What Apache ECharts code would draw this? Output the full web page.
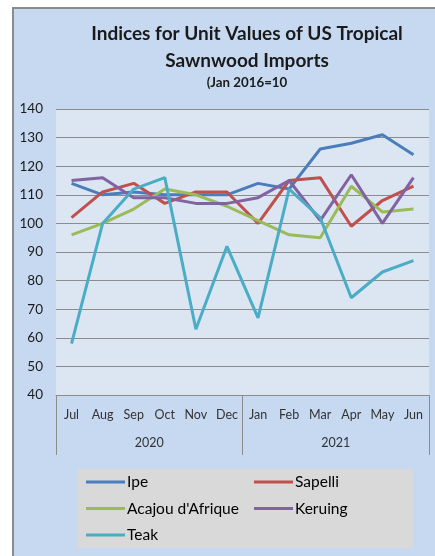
<!DOCTYPE html>
<html>
<head>
<meta charset="utf-8">
<script src="https://cdn.jsdelivr.net/npm/echarts@6/dist/echarts.min.js"></script>
<style>
  html, body { margin: 0; padding: 0; background: #fff; }
  #chart { width: 435px; height: 556px; }
</style>
</head>
<body>
<div id="chart"></div>
<script>
var months = ['Jul', 'Aug', 'Sep', 'Oct', 'Nov', 'Dec', 'Jan', 'Feb', 'Mar', 'Apr', 'May', 'Jun'];
var years = ['2020', '2021'];

var ipe     = [114, 110, 111, 110, 110, 110, 114, 112, 126, 128, 131, 124];
var sapelli = [102, 111, 114, 107, 111, 111, 100, 115, 116, 99, 108, 113];
var acajou  = [96, 100, 105, 112, 110, 106, 101, 96, 95, 113, 104, 105];
var keruing = [115, 116, 109, 109, 107, 107, 109, 115, 101, 117, 100, 116];
var teak    = [58, 100, 112, 116, 63, 92, 67, 112, 102, 74, 83, 87];

var font = 'Lato';

function line(name, data, color) {
    return {
        name: name,
        type: 'line',
        data: data,
        showSymbol: false,
        symbol: 'none',
        lineStyle: { color: color, width: 3 },
        itemStyle: { color: color }
    };
}

var legendText = { fontFamily: font, fontSize: 15.5, color: '#000', lineHeight: 16, padding: [0, 0, 0, -3] };

var chart = echarts.init(document.getElementById('chart'));

chart.setOption({
    backgroundColor: '#fff',
    animation: false,
    textStyle: { fontFamily: font },
    graphic: [{
        type: 'rect',
        z: -10,
        shape: { x: 13, y: 8, width: 430, height: 560 },
        style: { fill: '#c6d9f1', stroke: '#8c8c8c', lineWidth: 2 }
    }, {
        type: 'rect',
        z: -5,
        shape: { x: 78, y: 469, width: 335, height: 79 },
        style: { fill: '#d9d9d9' }
    }],
    title: {
        text: 'Indices for Unit Values of US Tropical\nSawnwood Imports',
        subtext: '(Jan 2016=10',
        left: 242,
        top: 15,
        textAlign: 'center',
        itemGap: 2,
        textStyle: { fontFamily: font, fontSize: 19, fontWeight: 'bold', color: '#1a1a1a', lineHeight: 27 },
        subtextStyle: { fontFamily: font, fontSize: 13.3, fontWeight: 'bold', color: '#1a1a1a' }
    },
    grid: {
        left: 56, right: 6, top: 109, bottom: 161,
        show: true,
        backgroundColor: '#dce6f2',
        borderWidth: 0
    },
    legend: [{
        data: ['Ipe', 'Acajou d\'Afrique', 'Teak'],
        orient: 'vertical',
        left: 86,
        top: 474,
        padding: 0,
        itemGap: 10.5,
        itemWidth: 39,
        itemHeight: 3,
        icon: 'rect',
        textStyle: legendText
    }, {
        data: ['Sapelli', 'Keruing'],
        orient: 'vertical',
        left: 254,
        top: 474,
        padding: 0,
        itemGap: 10.5,
        itemWidth: 39,
        itemHeight: 3,
        icon: 'rect',
        textStyle: legendText
    }],
    xAxis: [{
        type: 'category',
        data: months,
        position: 'bottom',
        axisLine: { show: true, lineStyle: { color: '#8c8c8c', width: 1 } },
        axisTick: { show: false },
        axisLabel: { interval: 0, margin: 13, fontSize: 12.5, color: '#333' }
    }, {
        type: 'category',
        data: years,
        position: 'bottom',
        axisLine: { show: false },
        axisTick: { show: true, length: 60, lineStyle: { color: '#8c8c8c', width: 1 } },
        axisLabel: { interval: 0, margin: 41, fontSize: 12.5, color: '#333' }
    }],
    yAxis: {
        type: 'value',
        min: 40,
        max: 140,
        interval: 10,
        axisLine: { show: false },
        axisTick: { show: false },
        axisLabel: { margin: 13, fontSize: 13.5, color: '#1a1a1a' },
        splitLine: { lineStyle: { color: '#8c8c8c', width: 1 } }
    },
    series: [
        line('Ipe', ipe, '#4a7ebb'),
        line('Sapelli', sapelli, '#c0504d'),
        line('Acajou d\'Afrique', acajou, '#9bbb59'),
        line('Keruing', keruing, '#8064a2'),
        line('Teak', teak, '#4bacc6')
    ]
});
</script>
</body>
</html>
